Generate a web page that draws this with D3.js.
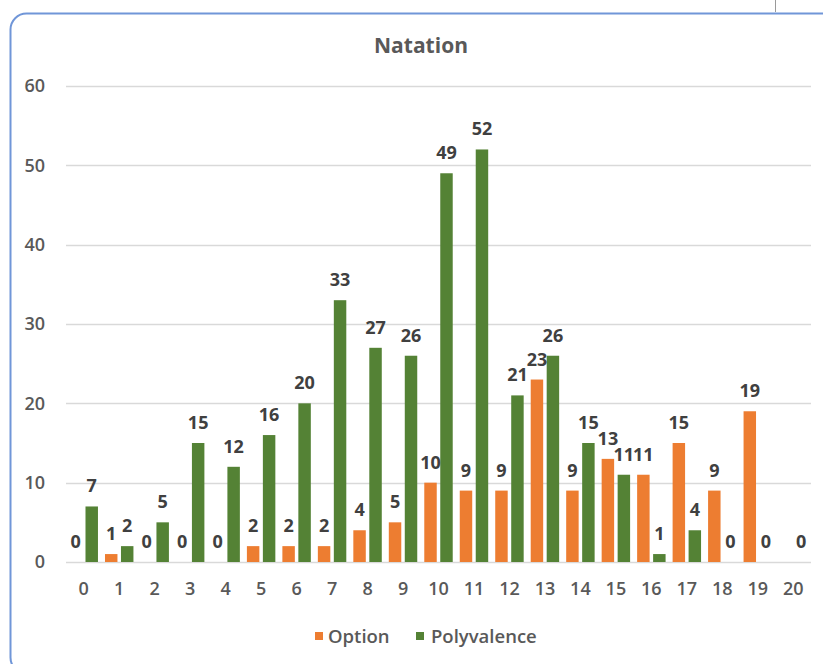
<!DOCTYPE html>
<html>
<head>
<meta charset="utf-8">
<script src="https://cdn.jsdelivr.net/npm/d3@7"></script>
<style>
  html, body { margin: 0; padding: 0; background: #fff; }
  svg { display: block; }
  text { font-family: "Open Sans", "Noto Sans", sans-serif; }
</style>
</head>
<body>
<svg id="chart" width="823" height="664"></svg>
<script>
// Swimming results: count per score, for "Option" and "Polyvalence"
const categories = ["0","1","2","3","4","5","6","7","8","9","10","11","12","13","14","15","16","17","18","19","20"];
const seriesNames = ["Option", "Polyvalence"];
const optionValues = [0, 1, 0, 0, 0, 2, 2, 2, 4, 5, 10, 9, 9, 23, 9, 13, 11, 15, 9, 19, null];
const polyvalenceValues = [7, 2, 5, 15, 12, 16, 20, 33, 27, 26, 49, 52, 21, 26, 15, 11, 1, 4, 0, 0, 0];
const yTicks = [0, 10, 20, 30, 40, 50, 60];
const colors = { Option: "#ED7D31", Polyvalence: "#548235" };

const svg = d3.select("#chart");

// card frame
svg.append("rect")
  .attr("x", 10.5).attr("y", 13.5)
  .attr("width", 830).attr("height", 660)
  .attr("rx", 16).attr("ry", 16)
  .attr("fill", "#fff")
  .attr("stroke", "#7096D8")
  .attr("stroke-width", 2);
svg.append("line")
  .attr("x1", 775.5).attr("x2", 775.5)
  .attr("y1", 0).attr("y2", 12)
  .attr("stroke", "#9a9a9a").attr("stroke-width", 1);

const plot = { left: 66, right: 811, top: 86, bottom: 562 };

const x = d3.scaleBand().domain(categories).range([plot.left, plot.right]).padding(0);
const xs = d3.scaleBand().domain(seriesNames).range([0, x.bandwidth()]).padding(0.22);
const y = d3.scaleLinear().domain([0, 60]).range([plot.bottom, plot.top]);

// gridlines
svg.append("g").selectAll("line").data(yTicks).join("line")
  .attr("x1", plot.left).attr("x2", plot.right)
  .attr("y1", d => Math.round(y(d)) + 0.5).attr("y2", d => Math.round(y(d)) + 0.5)
  .attr("stroke", "#D9D9D9").attr("stroke-width", 1.3);

// y axis labels
const yAxis = svg.append("g")
  .attr("transform", `translate(${plot.left},0)`)
  .call(d3.axisLeft(y).tickValues(yTicks).tickSize(0).tickPadding(21));
yAxis.select(".domain").remove();
yAxis.selectAll("text")
  .attr("fill", "#595959").attr("font-size", 18).attr("font-weight", 600);

// x axis labels
const xAxis = svg.append("g")
  .attr("transform", `translate(0,${plot.bottom})`)
  .call(d3.axisBottom(x).tickSize(0).tickPadding(20));
xAxis.select(".domain").remove();
xAxis.selectAll("text")
  .attr("fill", "#595959").attr("font-size", 18).attr("font-weight", 600);

const rows = categories.map((c, i) => ({
  cat: c,
  values: [
    { key: "Option", value: optionValues[i] },
    { key: "Polyvalence", value: polyvalenceValues[i] }
  ].filter(d => d.value !== null)
}));

const groups = svg.append("g").selectAll("g").data(rows).join("g")
  .attr("transform", d => `translate(${x(d.cat)},0)`);

groups.selectAll("rect").data(d => d.values).join("rect")
  .attr("x", d => xs(d.key))
  .attr("width", xs.bandwidth())
  .attr("y", d => y(d.value))
  .attr("height", d => y(0) - y(d.value))
  .attr("fill", d => colors[d.key]);

groups.selectAll("text.lbl").data(d => d.values).join("text")
  .attr("class", "lbl")
  .attr("x", d => xs(d.key) + xs.bandwidth() / 2)
  .attr("y", d => y(d.value) - 14)
  .attr("text-anchor", "middle")
  .attr("fill", "#404040")
  .attr("font-size", 18)
  .attr("font-weight", 700)
  .text(d => d.value);

// title
svg.append("text")
  .attr("x", 421).attr("y", 53)
  .attr("text-anchor", "middle")
  .attr("fill", "#595959")
  .attr("font-size", 21)
  .attr("font-weight", 700)
  .text("Natation");

// legend
const legendItems = [
  { key: "Option", sx: 315, tx: 328 },
  { key: "Polyvalence", sx: 416, tx: 431 }
];
const legend = svg.append("g").selectAll("g").data(legendItems).join("g");
legend.append("rect")
  .attr("x", d => d.sx).attr("y", 632)
  .attr("width", 8).attr("height", 8)
  .attr("fill", d => colors[d.key]);
legend.append("text")
  .attr("x", d => d.tx).attr("y", 643)
  .attr("fill", "#595959")
  .attr("font-size", 18.5)
  .attr("font-weight", 600)
  .text(d => d.key);
</script>
</body>
</html>
